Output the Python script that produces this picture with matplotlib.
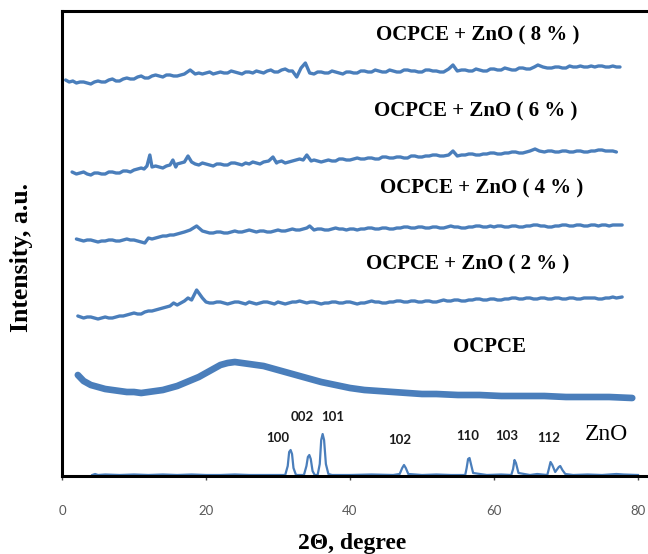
import matplotlib
matplotlib.use("Agg")
import matplotlib.pyplot as plt

# ---------------- data (2theta in degrees, intensity in a.u.) ----------------
zno8 = [(0.5,396),(1,394),(1.5,395),(2,393),(2.5,394),(3,394),(3.5,393),(4,392),(4.5,394),(5,395),(5.5,394),(6,394),
        (6.5,396),(7,397),(7.5,395),(8,395),(8.5,397),(9,398),(9.5,397),
        (10,397),(10.5,399),(11,400),(11.5,398),(12,398),(12.5,400),(13,401),(13.5,400),(14,399),(14.5,401),(15,401),
        (15.5,400),(16,400),(16.5,401),(17,402),(17.8,406),(18.5,402),
        (19,403),(19.5,402),(20,403),(20.5,404),(21,402),(21.5,403),(22,404),(22.5,403),(23,403),(23.5,405),(24,404),
        (24.5,403),(25,402),(25.5,404),(26,404),(26.5,403),(27,405),(27.5,404),(28,403),(28.5,405),
        (29,406),(29.5,404),(30,404),(30.5,406),(31,407),(31.5,405),(32,405),(32.6,399),(33.2,408),(33.8,413),
        (34.4,403),(35,402),(35.5,404),(36,404),(36.5,403),
        (37,403),(37.5,405),(38,404),(38.5,403),(39,402),(39.5,404),(40,404),(40.5,403),(41,403),(41.5,405),(42,405),
        (42.5,404),(43,404),(43.5,406),(44,405),(44.5,404),(45,404),(45.5,406),(46,405),
        (46.5,404),(47,404),(47.5,406),(48,406),(48.5,405),(49,405),(49.5,404),(50,404),(50.5,406),(51,406),
        (51.5,405),(52,405),(52.5,404),(53,404),(53.7,407),(54.3,411),(54.9,405),
        (55.5,406),(56,406),(56.5,405),(57,405),(57.5,407),(58,406),(58.5,405),(59,405),(59.5,407),(60,407),
        (60.5,406),(61,406),(61.5,408),(62,407),(62.5,406),(63,406),(63.5,408),(64,408),(64.5,407),(65,407),
        (65.6,409),(66.1,411),(66.8,409),(67.4,408),(68,408),(68.5,409),(69,409),(69.5,408),(70,408),
        (70.5,410),(71,409),(71.5,409),(72,410),(72.5,409),(73,409),(73.5,410),(74,409),
        (74.5,410),(75,410),(75.5,409),(76,409),(76.5,410),(77,409),(77.5,409)]

zno6 = [(1.4,304),(2,302),(2.5,303),(3,304),(3.5,302),(4,301),(4.5,303),(5,303),(5.5,302),(6,302),(6.5,304),
        (7,304),(7.5,303),(8,303),(8.5,305),(9,305),(9.5,304),(10,306),(10.5,307),
        (11,308),(11.4,307),(11.8,310),(12.2,321),(12.5,309),(13,310),(13.5,309),(14,308),(14.5,310),(15,311),
        (15.4,316),(15.8,309),(16,312),(16.5,313),
        (17,314),(17.5,320),(18,314),(18.5,312),(19,311),(19.5,313),(20,312),(20.5,311),(21,310),(21.5,312),
        (22,312),(22.5,311),(23,311),(23.5,313),(24,313),(24.5,312),(25,311),(25.5,313),
        (26,312),(26.5,314),(27,313),(27.5,312),(28,314),(28.7,315),(29.3,319),(29.8,313),(30,314),(30.5,315),
        (31,313),(31.5,314),(32,315),(32.5,316),(33,317),(33.5,316),(34,321),
        (34.6,315),(35,316),(35.5,315),(36,314),(36.5,315),(37,316),(37.5,315),(38,315),(38.5,317),(39,317),
        (39.5,316),(40,316),(40.5,317),(41,318),(41.5,317),(42,317),(42.5,318),(43,318),
        (43.5,317),(44,317),(44.5,319),(45,319),(45.5,318),(46,318),(46.5,319),(47,319),(47.5,318),(48,318),
        (48.5,320),(49,320),(49.5,319),(50,319),(50.5,320),(51,320),(51.5,321),(52,321),(52.5,320),(53,320),
        (53.7,321),(54.3,325),(54.9,320),(55.5,321),(56,321),(56.5,322),(57,322),(57.5,321),(58,321),(58.5,322),
        (59,322),(59.5,323),(60,323),(60.5,322),(61,322),(61.5,323),(62,323),(62.5,324),
        (63,324),(63.5,323),(64,323),(64.5,324),(65,325),(65.7,327),(66.3,325),(67,324),(67.5,325),(68,325),
        (68.5,324),(69,324),(69.5,325),(70,325),(70.5,324),(71,324),(71.5,325),
        (72,325),(72.5,324),(73,324),(73.5,325),(74,325),(74.5,326),(75,326),(75.5,325),(76,325),(76.5,325),(77,324)]

zno4 = [(2,237),(2.5,236),(3,235),(3.5,236),(4,236),(4.5,235),(5,234),(5.5,235),(6,235),(6.5,236),
        (7,236),(7.5,235),(8,235),(8.5,236),(9,237),(9.5,236),(10,236),(10.5,235),(11,234),
        (11.5,233),(12,238),(12.5,237),(13,238),(13.5,239),(14,240),(14.5,240),(15,241),(15.5,241),(16,242),
        (16.5,243),(17,244),(17.8,246),(18.7,250),(19.5,245),
        (20,244),(20.5,243),(21,243),(21.5,244),(22,244),(22.5,243),(23,243),(23.5,244),(24,245),(24.5,244),
        (25,244),(25.5,245),(26,246),(26.5,245),(27,244),(27.5,245),(28,245),(28.5,244),(29,244),
        (29.5,245),(30,246),(30.5,245),(31,245),(31.5,246),(32,247),(32.5,246),(33,246),(33.5,247),(34,248),
        (34.4,250),(35,246),(35.5,247),(36,247),(36.5,246),(37,246),(37.5,247),(38,248),
        (38.5,247),(39,247),(39.5,246),(40,247),(40.5,247),(41,246),(41.5,247),(42,247),(42.5,248),(43,248),
        (43.5,247),(44,247),(44.5,248),(45,248),(45.5,247),(46,247),(46.5,248),(47,248),(47.5,249),(48,249),
        (48.5,248),(49,248),(49.5,249),(50,249),(50.5,248),(51,248),(51.5,249),(52,249),(52.5,248),(53,248),
        (53.5,249),(54,250),(54.5,249),(55,249),(55.5,248),(56,248),(56.5,249),(57,249),(57.5,250),(58,250),
        (58.5,249),(59,249),(59.5,250),(60,249),(60.5,250),(61,250),(61.5,249),(62,249),(62.5,250),(63,250),
        (63.5,249),(64,249),(64.5,250),(65,250),(65.5,251),(66,251),(66.5,250),(67,250),(67.5,249),(68,249),
        (68.5,250),(69,250),(69.5,251),(70,251),(70.5,250),(71,250),(71.5,251),(72,251),(72.5,250),(73,250),
        (73.5,251),(74,251),(74.5,250),(75,251),(75.5,251),(76,250),(76.5,251),(77,251),(77.8,251)]

zno2 = [(2.2,160),(2.6,159),(3,158),(3.5,159),(4,159),(4.5,158),(5,157),(5.5,158),(6,159),(6.5,158),
        (7,158),(7.5,159),(8,160),(8.5,160),(9,161),(9.5,162),(10,163),(10.5,162),(11,162),
        (11.5,164),(12,165),(12.5,165),(13,166),(13.5,167),(14,168),(14.5,169),(15,170),(15.5,173),(16,171),
        (16.5,173),(17,175),(17.5,178),(18,176),(18.7,186),
        (19.5,178),(20,174),(20.5,173),(21,173),(21.5,174),(22,174),(22.5,173),(23,172),(23.5,173),(24,174),
        (24.5,174),(25,173),(25.5,172),(26,174),(26.5,173),(27,172),(27.5,173),(28,174),
        (28.5,174),(29,173),(29.5,172),(30,174),(30.5,173),(31,172),(31.5,173),(32,174),(32.5,174),(33,175),
        (33.5,174),(34,173),(34.5,174),(35,174),(35.5,173),(36,172),(36.5,173),(37,173),(37.5,174),(38,174),
        (38.5,173),(39,173),(39.5,174),(40,174),(40.5,173),(41,172),(41.5,173),(42,173),(42.5,174),
        (43,175),(43.5,174),(44,174),(44.5,173),(45,173),(45.5,174),(46,174),(46.5,175),(47,175),(47.5,174),(48,174),
        (48.5,175),(49,175),(49.5,174),(50,174),(50.5,175),(51,175),(51.5,174),(52,174),(52.5,175),
        (53,176),(53.5,175),(54,175),(54.5,176),(55,176),(55.5,175),(56,175),(56.5,176),(57,176),(57.5,177),(58,177),
        (58.5,176),(59,176),(59.5,177),(60,177),(60.5,176),(61,176),(61.5,177),(62,177),(62.5,178),
        (63,178),(63.5,177),(64,177),(64.5,178),(65,178),(65.5,177),(66,177),(66.5,178),(67,178),(67.5,177),(68,177),
        (68.5,178),(69,178),(69.5,177),(70,177),(70.5,178),(71,178),(71.5,177),(72,177),(72.5,178),
        (73,178),(73.5,178),(74,178),(74.5,177),(75,177),(75.5,178),(76,178),(76.5,179),(77,178),(77.8,179)]

ocpce = [(2.2,101),(3,95),(4,91),(5,89),(6,87),(7,86),(8,85),(9,84),(10,84),(11,83),
         (12,84),(13,85),(14,86),(15,88),(16,90),(17,93),(18,96),(19,99),(20,103),(21,107),
         (22,111),(23,113),(24,114),(25,113),(26,112),(27,111),(28,110),(29,108),(30,106),(31,104),
         (32,102),(33,100),(34,98),(35,96),(36,94),(38,91),(40,88),(42,86),(44,85),(46,84),
         (48,83),(50,82),(52,82),(55,81),(58,81),(61,80),(64,80),(67,80),(70,79),(73,79),
         (76,79),(79.2,78)]

zno_ref = [(4.2,1),(4.6,2),(5,1),(6,1.5),(8,1),(10,1.5),(12,1),(14,1.5),(16,1),(18,1.5),
           (20,1),(22,1),(24,1.5),(26,1),(28,1),(30,1),(31.0,1),(31.35,10),(31.55,24),(31.75,26),(31.95,22),
           (32.15,8),(32.5,1),(33.6,1),(33.95,10),(34.15,19),(34.35,21),(34.55,17),(34.8,5),(35.1,1),
           (35.5,1),(35.8,12),(36.0,36),(36.2,42),(36.4,36),(36.65,12),(37.0,2),(37.5,1),(40,1),(43,1.5),
           (46,1),(46.9,2),(47.25,8),(47.5,11),(47.75,8),(48.1,2),(50,1),(52,1.5),(54,1),(56,1),
           (56.2,8),(56.4,17),(56.6,18),(56.8,12),(57.1,3),(59,1),(61,1.5),(62.4,1),(62.65,7),(62.85,16),
           (63.05,13),(63.4,3),(65,1),(66,2),(67.4,1),(67.65,8),(67.85,14),(68.1,11),(68.5,4),(69.0,9),
           (69.2,10),(69.5,6),(69.9,2),(71,1),(73,1.5),(75,1),(77,2),(78,1.5),(80,1)]

curve_labels = ["OCPCE + ZnO ( 8 % )", "OCPCE + ZnO ( 6 % )", "OCPCE + ZnO ( 4 % )",
                "OCPCE + ZnO ( 2 % )", "OCPCE", "ZnO"]
label_pos = [(57.8, 441), (57.4, 365), (58.3, 288), (56.4, 212), (59.4, 129), (75.6, 42)]

hkl_labels = ["100", "002", "101", "102", "110", "103", "112"]
hkl_pos = [(29.9, 38), (33.3, 59), (37.6, 59), (46.9, 36), (56.4, 40), (61.7, 40), (67.6, 38)]

xticks = [0, 20, 40, 60, 80]

# ---------------- figure ----------------
BLUE = "#4A7EBB"
fig = plt.figure(figsize=(6.48, 5.54), dpi=100)
ax = fig.add_axes([62/648, 1 - 476/554, 1 - 62/648, (476 - 11)/554])

def xy(pts):
    return [p[0] for p in pts], [p[1] for p in pts]

for pts in [zno8, zno6, zno4, zno2]:
    x, y = xy(pts)
    ax.plot(x, y, color=BLUE, lw=2.4, solid_joinstyle="round", solid_capstyle="round")
x, y = xy(ocpce)
ax.plot(x, y, color=BLUE, lw=4.8, solid_joinstyle="round", solid_capstyle="round")
x, y = xy(zno_ref)
ax.plot(x, y, color=BLUE, lw=1.6, solid_joinstyle="round")

ax.set_xlim(0, (648 - 62) / 7.2)
ax.set_ylim(0, 465)

serif = ["Liberation Serif", "DejaVu Serif"]
for lab, (px, py) in zip(curve_labels, label_pos):
    ax.text(px, py, lab, ha="center", va="center", fontsize=15 if lab != "ZnO" else 17,
            family=serif, fontweight="bold" if lab != "ZnO" else "normal", color="black")
for lab, (px, py) in zip(hkl_labels, hkl_pos):
    ax.text(px, py, lab, ha="center", va="center", fontsize=9.5,
            family=["Lato", "DejaVu Sans"], fontweight="bold", color="#1a1a1a")

ax.set_xticks(xticks)
ax.set_xticklabels([str(t) for t in xticks], family=["Lato", "DejaVu Sans"],
                   fontsize=9.5, color="#595959")
ax.tick_params(axis="x", length=3, width=1, pad=18, color="#444444")
ax.set_yticks([])

for s in ["left", "top", "bottom"]:
    ax.spines[s].set_linewidth(2.2)
    ax.spines[s].set_color("black")
ax.spines["right"].set_visible(False)

fig.text(352/648, 1 - 543/554, "2Θ, degree", ha="center", va="center",
         fontsize=17, fontweight="bold", family=serif)
fig.text(22/648, 1 - 258/554, "Intensity, a.u.", ha="center", va="center",
         rotation=90, fontsize=18.5, fontweight="bold", family=serif)

fig.savefig("out.png", dpi=100)
